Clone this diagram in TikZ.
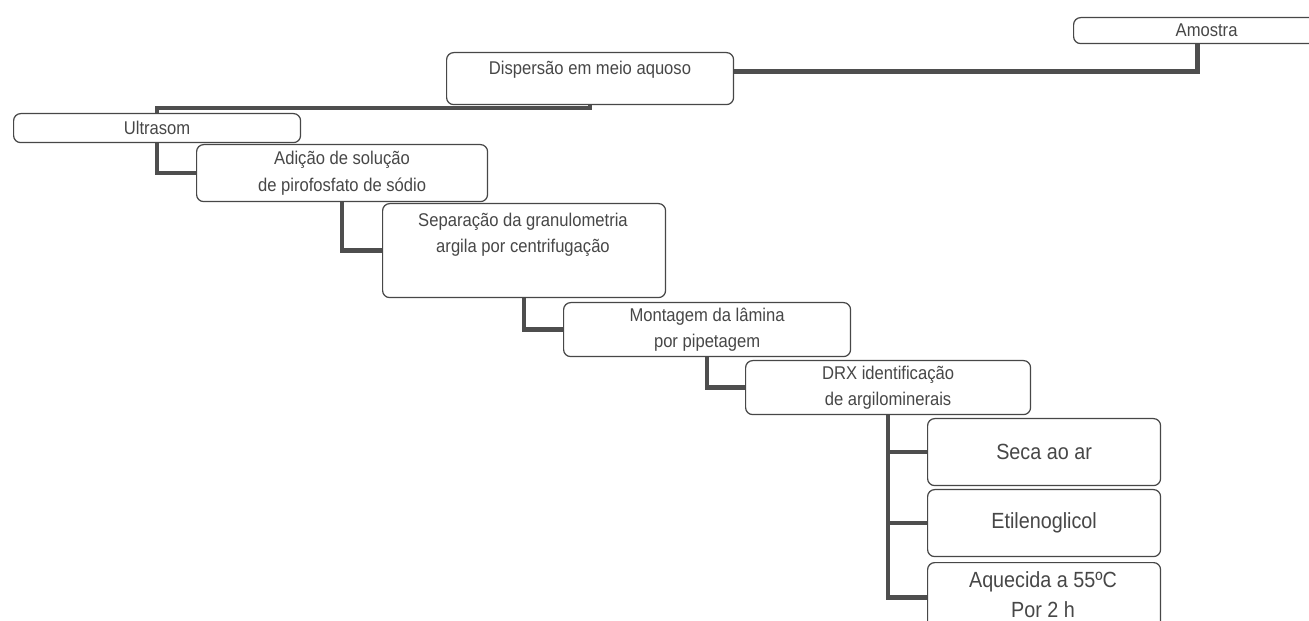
\documentclass[tikz,border=0pt]{standalone}
\usepackage{fontspec}
\setmainfont{Liberation Sans}[FakeStretch=0.9]
\usetikzlibrary{positioning}
\definecolor{inkgray}{HTML}{474747}
\definecolor{linkgray}{HTML}{4E4E4E}

\begin{document}
\begin{tikzpicture}[x=0.02cm, y=-0.02cm,
  box/.style={draw=inkgray, line width=0.7pt, rounded corners=4pt, fill=white, anchor=north west, inner sep=0pt, text=inkgray, align=center, font=\fontsize{10.5}{15}\selectfont},
  bigbox/.style={box, font=\fontsize{12.5}{17}\selectfont},
  txt/.style={text=inkgray, align=center, inner sep=0pt, font=\fontsize{10.5}{15}\selectfont},
  link/.style={draw=linkgray, line width=2.4pt}]
\useasboundingbox (0,0) rectangle (1309,621);
\clip (0,0) rectangle (1309,621);
% Boxes
\node[box, minimum width=5.32cm, minimum height=0.52cm] (amostra) at (1073,17) {Amostra};
\node[box, minimum width=5.74cm, minimum height=1.04cm] (disp) at (446,52) {};
\node[txt] (disptxt) at (590,70) {Dispersão em meio aquoso};
\node[box, minimum width=5.74cm, minimum height=0.58cm] (ultra) at (13,113) {Ultrasom};
\node[box, minimum width=5.82cm, minimum height=1.14cm] (adic) at (196,144) {Adição de solução\\de pirofosfato de sódio};
\node[box, minimum width=5.66cm, minimum height=1.88cm] (sep) at (382,203) {};
\node[txt] (septxt) at (523,235) {Separação da granulometria\\argila por centrifugação};
\node[box, minimum width=5.74cm, minimum height=1.08cm] (mont) at (563,302) {Montagem da lâmina\\por pipetagem};
\node[box, minimum width=5.7cm, minimum height=1.08cm] (drx) at (745,360) {DRX identificação\\de argilominerais};
\node[bigbox, minimum width=4.66cm, minimum height=1.34cm] (seca) at (927,418) {Seca ao ar};
\node[bigbox, minimum width=4.66cm, minimum height=1.34cm] (etil) at (927,489) {Etilenoglicol};
\node[bigbox, minimum width=4.66cm, minimum height=1.6cm] (aquec) at (927,562) {};
\node[txt, font=\fontsize{12.5}{17}\selectfont] (aquectxt) at (1043,595) {Aquecida a 55ºC\\Por 2 h};
% Connectors
\draw[link] ([xshift=-0.18cm]amostra.south) |- ([yshift=0.14cm]disp.east);
\draw[link] (disp.south) -- ++(0,3) -| (ultra.north);
\draw[link] (ultra.south) |- (adic.west);
\draw[link] (adic.south) |- (sep.west);
\draw[link] (sep.south) |- (mont.west);
\draw[link] (mont.south) |- (drx.west);
\draw[link] (drx.south) |- ([yshift=0.1cm]aquec.west);
\draw[link] (drx.south |- seca.west) -- (seca.west);
\draw[link] (drx.south |- etil.west) -- (etil.west);
\end{tikzpicture}
\end{document}
